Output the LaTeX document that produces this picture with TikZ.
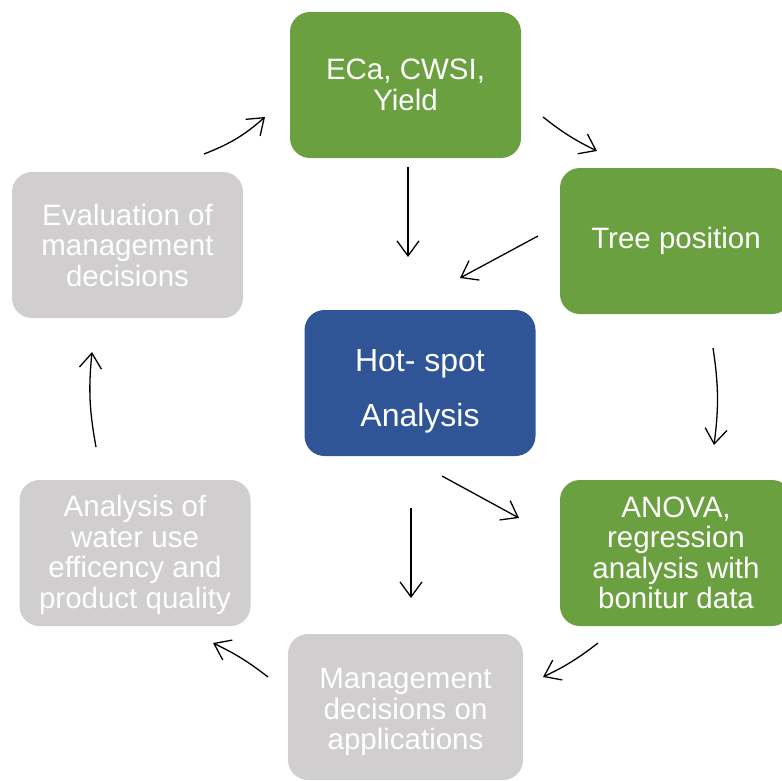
\documentclass[tikz,border=0pt]{standalone}
\usepackage{fontspec}
\setmainfont{Liberation Sans}
\usetikzlibrary{arrows.meta}
\definecolor{leafgreen}{RGB}{106,160,64}
\definecolor{deepblue}{RGB}{47,85,151}
\definecolor{softgray}{RGB}{208,206,206}
\tikzset{
  card/.style={rounded corners=20pt, minimum width=231pt, minimum height=146pt,
    text=white, align=center, inner sep=0pt,
    font=\fontsize{29.5}{30.5}\selectfont},
  greencard/.style={card, fill=leafgreen},
  graycard/.style={card, fill=softgray},
  bluecard/.style={card, fill=deepblue, font=\fontsize{32}{55}\selectfont},
  flow/.style={draw=black, line width=1.3pt,
    -{Straight Barb[length=15pt, width=22pt, line width=1.3pt]}}
}
\begin{document}
\begin{tikzpicture}[x=1pt, y=-1pt]
\useasboundingbox (0,0) rectangle (782,780);

% process boxes
\node[greencard] (sensing) at (405.5,85) {ECa, CWSI,\\Yield};
\node[greencard, minimum width=232pt] (tree) at (676,241) {Tree position};
\node[bluecard] (hotspot) at (420,383) {\rule{0pt}{38pt}Hot- spot\\Analysis};
\node[greencard, minimum width=232pt] (anova) at (676,553) {ANOVA,\\regression\\analysis with\\bonitur data};
\node[graycard, minimum width=235pt] (mgmt) at (405.5,707) {\rule{0pt}{31pt}Management\\decisions on\\applications};
\node[graycard] (water) at (135,553) {\rule{0pt}{25pt}Analysis of\\water use\\efficency and\\product quality};
\node[graycard] (evalu) at (127.5,245) {Evaluation of\\management\\decisions};

% arrow end points
\coordinate (a1s) at (204,154);  \coordinate (a1e) at (265,117);
\coordinate (a2s) at (543,117);  \coordinate (a2e) at (597,151);
\coordinate (a3s) at (408,167);  \coordinate (a3e) at (408,257);
\coordinate (a4s) at (538,236);  \coordinate (a4e) at (460,278);
\coordinate (a5s) at (713,348);  \coordinate (a5e) at (714,445);
\coordinate (a6s) at (442,476);  \coordinate (a6e) at (519,518);
\coordinate (a7s) at (411,508);  \coordinate (a7e) at (411,598);
\coordinate (a8s) at (598,643);  \coordinate (a8e) at (543,677);
\coordinate (a9s) at (268,677);  \coordinate (a9e) at (213,643);
\coordinate (a10s) at (96,447);  \coordinate (a10e) at (92,352);

% connectors
\draw[flow] (a1s) to[bend right=10] (a1e);
\draw[flow] (a2s) to[bend right=6] (a2e);
\draw[flow] (a3s) -- (a3e);
\draw[flow] (a4s) -- (a4e);
\draw[flow] (a5s) to[bend left=8] (a5e);
\draw[flow] (a6s) -- (a6e);
\draw[flow] (a7s) -- (a7e);
\draw[flow] (a8s) to[bend left=6] (a8e);
\draw[flow] (a9s) to[bend right=6] (a9e);
\draw[flow] (a10s) to[bend left=8] (a10e);
\end{tikzpicture}
\end{document}
